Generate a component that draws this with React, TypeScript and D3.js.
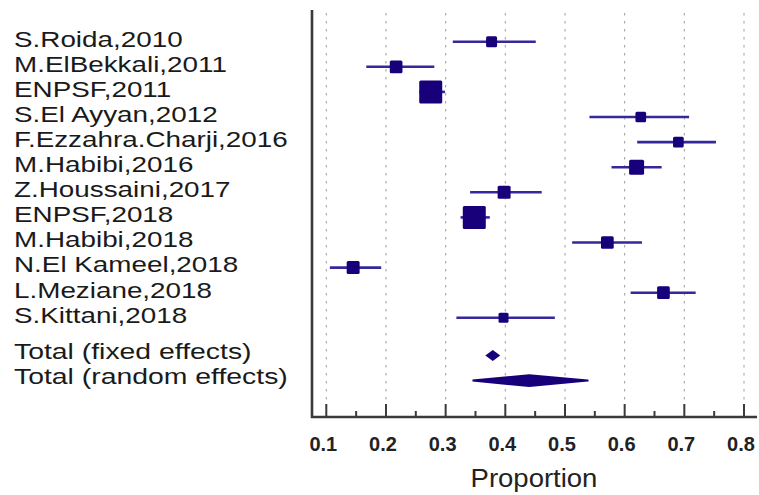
import React from "react";
import * as d3 from "d3";

const studies = [
  "S.Roida,2010",
  "M.ElBekkali,2011",
  "ENPSF,2011",
  "S.El Ayyan,2012",
  "F.Ezzahra.Charji,2016",
  "M.Habibi,2016",
  "Z.Houssaini,2017",
  "ENPSF,2018",
  "M.Habibi,2018",
  "N.El Kameel,2018",
  "L.Meziane,2018",
  "S.Kittani,2018",
];
const estimates = [0.377, 0.217, 0.275, 0.627, 0.69, 0.62, 0.398, 0.348, 0.571, 0.145, 0.665, 0.397];
const lowerCI = [0.312, 0.167, 0.256, 0.541, 0.621, 0.578, 0.341, 0.325, 0.512, 0.106, 0.61, 0.318];
const upperCI = [0.451, 0.281, 0.299, 0.708, 0.753, 0.662, 0.461, 0.374, 0.629, 0.192, 0.719, 0.483];
const weights = [5.3, 7.1, 23.3, 5.0, 5.0, 9.9, 7.4, 23.3, 7.1, 7.4, 7.1, 4.4];

const totalLabels = ["Total (fixed effects)", "Total (random effects)"];
const totalEstimates = [0.379, 0.44];
const totalLower = [0.3665, 0.345];
const totalUpper = [0.3915, 0.538];

const majorTicks = [0.1, 0.2, 0.3, 0.4, 0.5, 0.6, 0.7, 0.8];
const minorTicks = [0.15, 0.25, 0.35, 0.45, 0.55, 0.65, 0.75];
const xTitle = "Proportion";

const W = 759;
const H = 495;
const plotLeft = 312;
const plotRight = 757;
const plotTop = 10;
const axisY = 417;

const x = d3.scaleLinear().domain([0.1, 0.8]).range([326.3, 744]);
const y = d3.scaleLinear().domain([0, 11]).range([41.7, 317.8]);
const size = d3.scaleSqrt().domain([0, 23.3]).range([0, 23]);

const MARK = "#17007a";
const LINE = "#34289a";
const FONT = "'Liberation Sans', Arial, sans-serif";

export default function App() {
  const diamond = (i: number, half: number) => {
    const cy = y(12.5 + i);
    const pts: [number, number][] = [
      [x(totalLower[i]), cy],
      [x(totalEstimates[i]), cy - half],
      [x(totalUpper[i]), cy],
      [x(totalEstimates[i]), cy + half],
    ];
    return d3.line()(pts.concat([pts[0]])) || "";
  };
  return (
    <svg
      width={W}
      height={H}
      style={{ position: "absolute", left: 0, top: 0, background: "#fff" }}
      fontFamily={FONT}
    >
      {/* grid */}
      {majorTicks.map((t) => (
        <line
          key={"g" + t}
          x1={x(t)}
          x2={x(t)}
          y1={plotTop + 3}
          y2={axisY}
          stroke="#9a9a9a"
          strokeWidth={1}
          strokeDasharray="2.5,5.5"
        />
      ))}
      {/* axes */}
      <line x1={plotLeft} x2={plotLeft} y1={plotTop} y2={axisY + 1} stroke="#3a3a3a" strokeWidth={2.6} />
      <line x1={plotLeft - 1} x2={plotRight} y1={axisY} y2={axisY} stroke="#3a3a3a" strokeWidth={2.6} />
      {majorTicks.map((t) => (
        <line key={"t" + t} x1={x(t)} x2={x(t)} y1={axisY - 13} y2={axisY} stroke="#3a3a3a" strokeWidth={2} />
      ))}
      {minorTicks.map((t) => (
        <line key={"m" + t} x1={x(t)} x2={x(t)} y1={axisY - 6} y2={axisY} stroke="#3a3a3a" strokeWidth={2} />
      ))}
      {majorTicks.map((t) => (
        <text
          key={"l" + t}
          x={x(t) - 3}
          y={451}
          textAnchor="middle"
          fontWeight="bold"
          fontSize={20}
          fill="#222"
        >
          {t.toFixed(1)}
        </text>
      ))}
      <text x={534} y={487} textAnchor="middle" fontSize={25} fill="#222" transform="translate(534,0) scale(1.1,1) translate(-534,0)">
        {xTitle}
      </text>

      {/* study labels */}
      {studies.map((s, i) => (
        <g key={"s" + s} transform={`translate(14,${y(i) + 4.8}) scale(1.265,1)`}>
          <text x={0} y={0} fontSize={22} fill="#1a1a1a">
            {s}
          </text>
        </g>
      ))}
      {totalLabels.map((s, i) => (
        <g key={"tl" + s} transform={`translate(14,${y(12.5 + i) + 3.8}) scale(1.29,1)`}>
          <text x={0} y={0} fontSize={22} fill="#1a1a1a">
            {s}
          </text>
        </g>
      ))}

      {/* study marks */}
      {studies.map((s, i) => {
        const cy = y(i);
        const sz = size(weights[i]);
        return (
          <g key={"k" + s}>
            <line x1={x(lowerCI[i])} x2={x(upperCI[i])} y1={cy} y2={cy} stroke={LINE} strokeWidth={2.6} />
            <rect
              x={x(estimates[i]) - sz / 2}
              y={cy - sz / 2}
              width={sz}
              height={sz}
              rx={1.5}
              fill={MARK}
            />
          </g>
        );
      })}
      {/* pooled diamonds */}
      <path d={diamond(0, 5.5)} fill={MARK} />
      <path d={diamond(1, 5.4)} fill={MARK} stroke={MARK} strokeWidth={2} strokeLinejoin="round" />
    </svg>
  );
}
